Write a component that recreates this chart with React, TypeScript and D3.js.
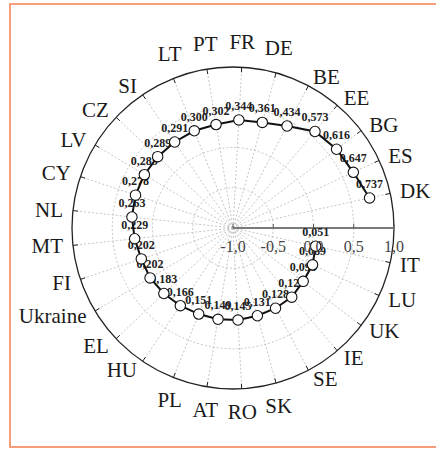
import React, { useEffect, useRef } from "react";
import * as d3 from "d3";

// Countries around the polar axis, counter-clockwise from the radial axis
const categories = [
  "DK", "ES", "BG", "EE", "BE", "DE", "FR", "PT", "LT", "SI", "CZ", "LV", "CY", "NL",
  "MT", "FI", "Ukraine", "EL", "HU", "PL", "AT", "RO", "SK", "SE", "IE", "UK", "LU", "IT",
];

// Index value per country
const values = [
  0.737, 0.647, 0.616, 0.573, 0.434, 0.361, 0.344, 0.302, 0.3, 0.291, 0.289, 0.285, 0.278, 0.263,
  0.229, 0.202, 0.202, 0.183, 0.166, 0.151, 0.149, 0.145, 0.131, 0.128, 0.127, 0.095, 0.089, 0.051,
];

// Radial axis ticks
const radialTicks = [-1, -0.5, 0, 0.5, 1];

const W = 436;
const H = 449;
const CX = 233;
const CY = 228;
const R = 161;
const SLOTS = 29;
const SERIF = "'Liberation Serif', 'Times New Roman', Times, serif";

export default function App() {
  const ref = useRef<SVGSVGElement | null>(null);

  useEffect(() => {
    const svg = d3.select(ref.current);
    svg.selectAll("*").remove();

    const locale = d3.formatLocale({ decimal: ",", thousands: ".", grouping: [3], currency: ["", ""] });
    const fmtVal = locale.format(".3f");
    const fmtTick = locale.format(".1f");

    const rScale = d3.scaleLinear().domain([-1, 1]).range([0, R]);
    const aScale = d3.scaleLinear().domain([0, SLOTS]).range([0, 2 * Math.PI]);
    const px = (a: number, r: number) => CX + r * Math.cos(a);
    const py = (a: number, r: number) => CY - r * Math.sin(a);

    // frame
    svg.append("rect")
      .attr("x", 10).attr("y", 4).attr("width", 440).attr("height", 443)
      .attr("fill", "none").attr("stroke", "#f4865c").attr("stroke-width", 1.6);

    const g = svg.append("g");

    // dashed circular grid
    [-0.5, 0, 0.5].forEach((v) => {
      g.append("circle")
        .attr("cx", CX).attr("cy", CY).attr("r", rScale(v))
        .attr("fill", "none").attr("stroke", "#bdbdbd").attr("stroke-width", 0.9)
        .attr("stroke-dasharray", "2,2");
    });

    // dashed spokes
    d3.range(1, SLOTS).forEach((k) => {
      const a = aScale(k);
      g.append("line")
        .attr("x1", CX).attr("y1", CY)
        .attr("x2", px(a, R)).attr("y2", py(a, R))
        .attr("stroke", "#bdbdbd").attr("stroke-width", 0.9)
        .attr("stroke-dasharray", "2,2");
    });

    // outer circle with inward ticks
    g.append("circle")
      .attr("cx", CX).attr("cy", CY).attr("r", R)
      .attr("fill", "none").attr("stroke", "#222").attr("stroke-width", 1.3);
    d3.range(0, SLOTS).forEach((k) => {
      const a = aScale(k);
      g.append("line")
        .attr("x1", px(a, R)).attr("y1", py(a, R))
        .attr("x2", px(a, R - 5)).attr("y2", py(a, R - 5))
        .attr("stroke", "#222").attr("stroke-width", 1);
    });

    // radial axis line and ticks
    g.append("line")
      .attr("x1", CX).attr("y1", CY).attr("x2", CX + R).attr("y2", CY)
      .attr("stroke", "#7a7a7a").attr("stroke-width", 1.8);
    radialTicks.forEach((t) => {
      const x = CX + rScale(t);
      g.append("line")
        .attr("x1", x).attr("y1", CY).attr("x2", x).attr("y2", CY - 4)
        .attr("stroke", "#555").attr("stroke-width", 1);
    });

    const pts = values.map((v, i) => {
      const a = aScale(i + 1);
      const r = rScale(v);
      return [px(a, r), py(a, r)] as [number, number];
    });

    // value labels (under the line and markers)
    pts.forEach(([x, y], i) => {
      g.append("text")
        .attr("x", x).attr("y", y - 10)
        .attr("text-anchor", "middle")
        .attr("font-family", SERIF).attr("font-size", 12).attr("font-weight", "bold")
        .attr("fill", "#222")
        .text(fmtVal(values[i]));
    });

    // series line
    g.append("path")
      .attr("d", d3.line()(pts))
      .attr("fill", "none").attr("stroke", "#111").attr("stroke-width", 2);

    // markers
    pts.forEach(([x, y]) => {
      g.append("circle")
        .attr("cx", x).attr("cy", y).attr("r", 5.2)
        .attr("fill", "#fff").attr("stroke", "#111").attr("stroke-width", 1.1);
    });

    // radial tick labels
    radialTicks.forEach((t) => {
      g.append("text")
        .attr("x", CX + rScale(t)).attr("y", CY + 24)
        .attr("text-anchor", "middle")
        .attr("font-family", SERIF).attr("font-size", 16)
        .attr("fill", "#444")
        .text(fmtTick(t).replace("−", "-"));
    });

    // category labels: centred above/below near the poles, side-aligned elsewhere
    categories.forEach((c, i) => {
      const a = aScale(i + 1);
      const r0 = 171;
      const ax = px(a, r0);
      const ay = py(a, r0);
      const s = Math.sin(a);
      const co = Math.cos(a);
      let anchor = co >= 0 ? "start" : "end";
      let y = ay + 7;
      if (s > 0.9) {
        anchor = "middle";
        y = ay - 8;
      } else if (s < -0.9) {
        anchor = "middle";
        y = ay + 20;
      }
      g.append("text")
        .attr("x", ax).attr("y", y)
        .attr("text-anchor", anchor)
        .attr("font-family", SERIF).attr("font-size", 21)
        .attr("fill", "#1a1a1a")
        .text(c);
    });
  }, []);

  return (
    <svg
      ref={ref}
      width={W}
      height={H}
      style={{ position: "absolute", left: 0, top: 0, background: "#fff" }}
    />
  );
}
